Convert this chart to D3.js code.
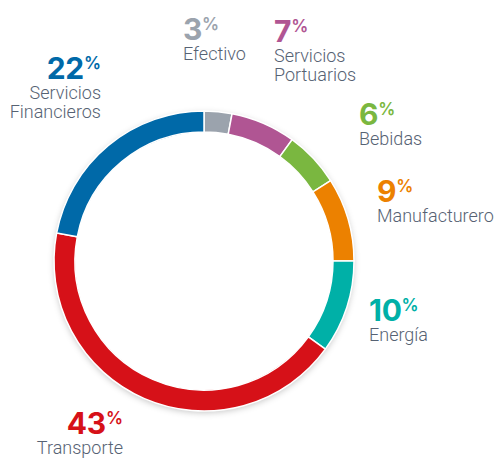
<!DOCTYPE html>
<html><head><meta charset="utf-8">
<script src="https://cdn.jsdelivr.net/npm/d3@7"></script>
<style>html,body{margin:0;padding:0;background:#fff;}svg{display:block;}</style>
</head><body>
<script>
const categories = ["Efectivo","Servicios Portuarios","Bebidas","Manufacturero","Energía","Transporte","Servicios Financieros"];
const values = [3,7,6,9,10,43,22];
const colors = ["#9ba3ad","#b05593","#7ab740","#ec8100","#00b0a7","#d61118","#0069a8"];
const labelLines = [["Efectivo"],["Servicios","Portuarios"],["Bebidas"],["Manufacturero"],["Energía"],["Transporte"],["Servicios","Financieros"]];
const labelPos = [[183,40,"start"],[274,42,"start"],[359,125,"start"],[377,202,"start"],[369,321,"start"],[123,434,"end"],[101,79,"end"]];

const W=495,H=458, cx=204, cy=261, rOut=150, rIn=129;
const svg=d3.select("body").append("svg").attr("width",W).attr("height",H);
const defs=svg.append("defs");
const f=defs.append("filter").attr("id","sh").attr("x","-20%").attr("y","-20%").attr("width","140%").attr("height","140%");
f.append("feDropShadow").attr("dx",0).attr("dy",2).attr("stdDeviation",3).attr("flood-color","#000").attr("flood-opacity",0.22);

const pie=d3.pie().sort(null).value(d=>d);
const arc=d3.arc().innerRadius(rIn).outerRadius(rOut);
const g=svg.append("g").attr("transform",`translate(${cx},${cy})`);
g.append("circle").attr("r",rOut).attr("fill","#fff").attr("filter","url(#sh)");
g.append("circle").attr("r",rIn).attr("fill","#fff");
g.selectAll("path").data(pie(values)).join("path")
  .attr("d",arc).attr("fill",(d,i)=>colors[i]).attr("stroke","#fff").attr("stroke-width",1.5);

const numFont="Inter, Roboto, 'Liberation Sans', sans-serif";
const font="Roboto, 'Liberation Sans', sans-serif";
values.forEach((v,i)=>{
  const [x,y,anchor]=labelPos[i];
  const t=svg.append("text").attr("x",x).attr("y",y).attr("text-anchor",anchor)
    .attr("font-family",numFont);
  t.append("tspan").attr("font-size",30).attr("font-weight",700).attr("letter-spacing",-0.3).attr("fill",colors[i]).text(v);
  t.append("tspan").attr("font-size",17).attr("font-weight",600).attr("dy",-10).attr("fill",colors[i]).text("%");
  labelLines[i].forEach((ln,j)=>{
    t.append("tspan").attr("x",x).attr("y",y+20+j*18.5)
      .attr("font-family",font).attr("font-weight",300).attr("font-size",18).attr("fill","#566273").text(ln);
  });
});
</script>
</body></html>
